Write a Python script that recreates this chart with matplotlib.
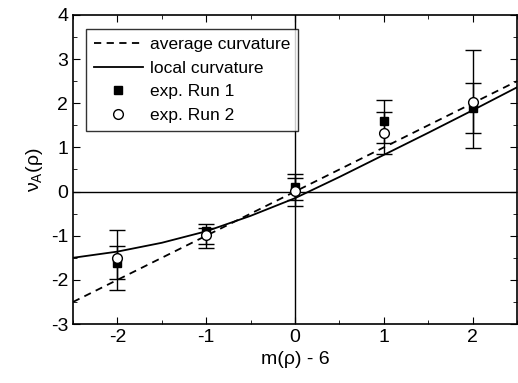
import numpy as np
import matplotlib.pyplot as plt
from matplotlib.ticker import MultipleLocator

plt.rcParams['font.family'] = ['Liberation Sans', 'DejaVu Sans']
plt.rcParams['axes.unicode_minus'] = False
plt.rcParams['mathtext.default'] = 'regular'

# measured points
x_pts = [-2, -1, 0, 1, 2]
run1 = [-1.61, -0.90, 0.11, 1.59, 1.89]
run1_lo = [-1.98, -1.18, -0.20, 1.09, 1.32]
run1_hi = [-1.23, -0.82, 0.30, 1.80, 2.45]
run2 = [-1.50, -0.98, 0.02, 1.32, 2.03]
run2_lo = [-2.23, -1.27, -0.32, 0.86, 0.98]
run2_hi = [-0.86, -0.73, 0.39, 2.07, 3.20]

# model curves
x_avg = [-2.5, 2.5]
y_avg = [-2.5, 2.5]
x_loc = [-2.5, -2, -1.5, -1, -0.5, 0, 0.5, 1, 1.5, 2, 2.5]
y_loc = [-1.50, -1.36, -1.16, -0.90, -0.55, -0.15, 0.33, 0.83, 1.33, 1.84, 2.36]

fig = plt.figure(figsize=(5.18, 3.83), dpi=100)
ax = fig.add_axes([0.141, 0.154, 0.857, 0.807])

ax.axhline(0, color='k', lw=1.0)
ax.axvline(0, color='k', lw=1.0)

ax.plot(x_avg, y_avg, 'k--', lw=1.3, dashes=(4, 3), label='average curvature')
ax.plot(x_loc, y_loc, 'k-', lw=1.3, label='local curvature')

r1 = np.array(run1)
r2 = np.array(run2)
ax.errorbar(x_pts, run2, yerr=[r2 - np.array(run2_lo), np.array(run2_hi) - r2],
            fmt='none', ecolor='k', elinewidth=1.0, capsize=6, capthick=1.0)
ax.errorbar(x_pts, run1, yerr=[r1 - np.array(run1_lo), np.array(run1_hi) - r1],
            fmt='none', ecolor='k', elinewidth=1.0, capsize=6, capthick=1.0)
ax.plot(x_pts, run1, 'ks', ms=6, ls='none', label='exp. Run 1')
ax.plot(x_pts, run2, 'o', mfc='white', mec='k', mew=1.0, ms=7, ls='none',
        label='exp. Run 2')

ax.set_xlim(-2.5, 2.5)
ax.set_ylim(-3, 4)
ax.xaxis.set_major_locator(MultipleLocator(1))
ax.xaxis.set_minor_locator(MultipleLocator(0.5))
ax.yaxis.set_major_locator(MultipleLocator(1))
ax.yaxis.set_minor_locator(MultipleLocator(0.5))
ax.tick_params(which='both', direction='in', top=True, right=True, labelsize=14)
ax.tick_params(which='major', length=5)
ax.tick_params(which='minor', length=3)
for s in ax.spines.values():
    s.set_linewidth(1.2)

ax.set_xlabel('m(ρ) - 6', fontsize=14)
ax.set_ylabel('ν$_A$(ρ)', fontsize=14)

leg = ax.legend(loc='upper left', fontsize=12.5, frameon=True, fancybox=False,
                edgecolor='k', handlelength=2.8, handletextpad=0.4,
                borderpad=0.45, labelspacing=0.5,
                bbox_to_anchor=(0.03, 0.955), borderaxespad=0)
leg.get_frame().set_linewidth(1.0)

fig.savefig('out.png', dpi=100)
